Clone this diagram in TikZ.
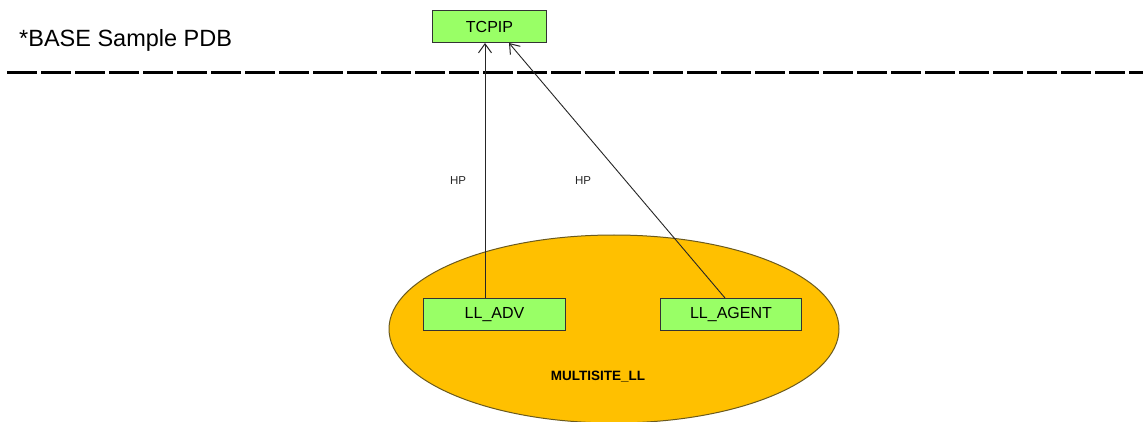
\documentclass[tikz,border=0pt]{standalone}
\usepackage{fontspec}
\setmainfont{Liberation Sans}
\usetikzlibrary{arrows.meta,shapes.geometric}
\definecolor{boxgreen}{HTML}{99FF66}
\definecolor{ellgold}{HTML}{FFC000}
\definecolor{ellborder}{HTML}{6B5A1E}
\tikzset{
  greenbox/.style={draw=black!80, line width=1pt, fill=boxgreen, inner sep=0pt, anchor=north west},
  link/.style={draw=black!85, line width=0.9pt, -{Straight Barb[length=9pt,width=13pt,line width=1pt]}},
  hplabel/.style={font=\fontsize{11.5}{13}\selectfont, text=black!85, inner sep=0pt},
}
\begin{document}
\begin{tikzpicture}[x=1pt,y=-1pt]
\useasboundingbox[fill=white] (0,0) rectangle (1143,422);
% title
\node[anchor=west, inner sep=0pt, font=\fontsize{23.5}{26}\selectfont] (title) at (19,40) {*BASE Sample PDB};
% dashed separator
\coordinate (dl) at (7,72.5);
\coordinate (dr) at (1143,72.5);
\draw[line width=3.5pt, dash pattern=on 30pt off 4pt] (dl) -- (dr);
% ellipse
\node[ellipse, draw=ellborder, line width=1pt, fill=ellgold, minimum width=450pt, minimum height=188pt, inner sep=0pt] (ell) at (614,329) {};
\node[font=\bfseries\fontsize{13.5}{15}\selectfont, inner sep=0pt] (ml) at (598,377) {MULTISITE\_LL};
% boxes
\node[greenbox, minimum width=114pt, minimum height=32pt, font=\fontsize{16}{18}\selectfont] (tcpip) at (432,10) {TCPIP};
\node[greenbox, minimum width=142pt, minimum height=32pt, font=\fontsize{16}{18}\selectfont] (adv) at (423,298) {LL\_ADV};
\node[greenbox, minimum width=141pt, minimum height=32pt, font=\fontsize{16}{18}\selectfont] (agent) at (660,298) {LL\_AGENT};
% connectors
\draw[link] (adv.north -| 485,0) -- (tcpip.south -| 485,0);
\draw[link] ([xshift=-6pt]agent.north) -- (tcpip.south -| 509,0);
% labels
\node[hplabel] (hp1) at (458,181) {HP};
\node[hplabel] (hp2) at (583,181) {HP};
\end{tikzpicture}
\end{document}
